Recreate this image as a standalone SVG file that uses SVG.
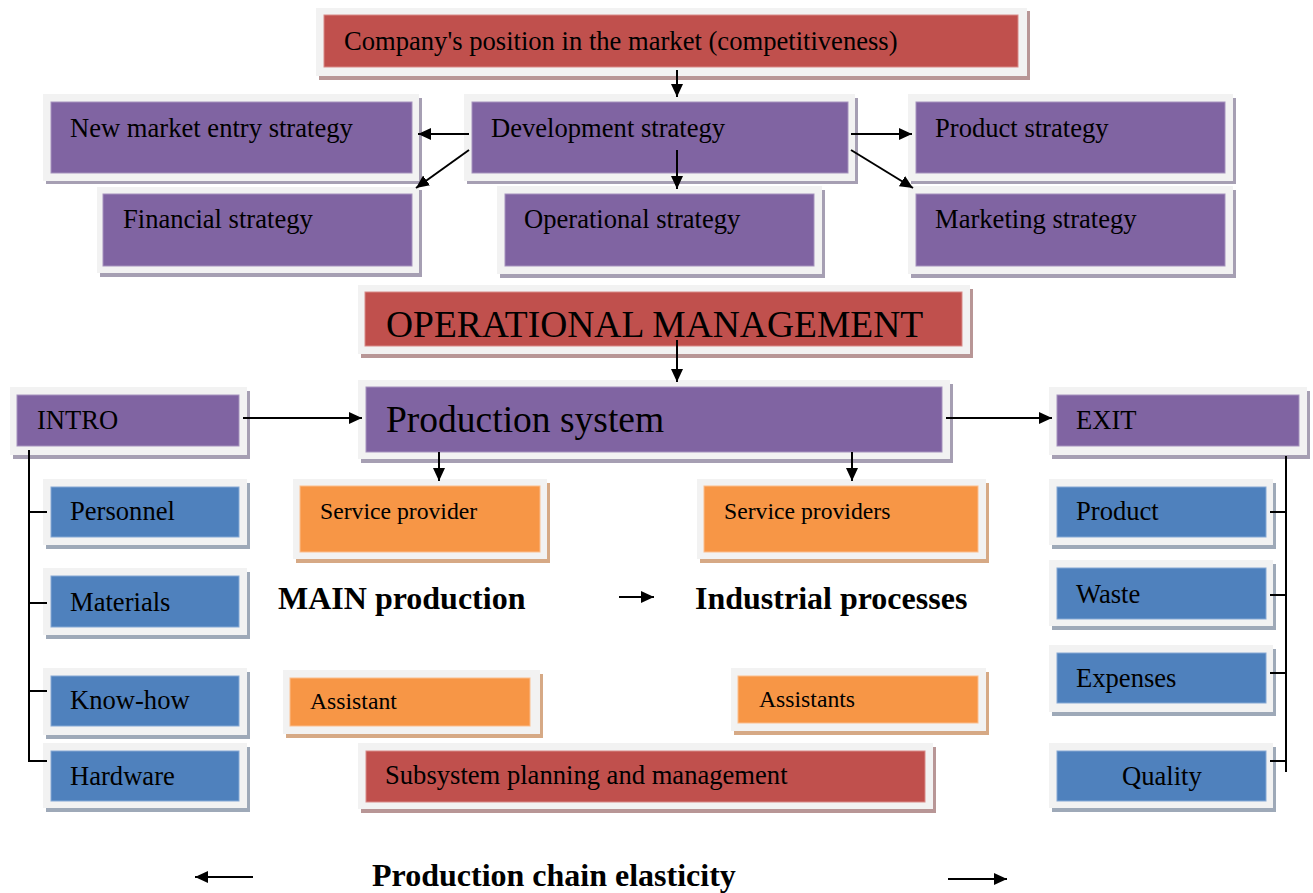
<svg xmlns="http://www.w3.org/2000/svg" width="1313" height="893" viewBox="0 0 1313 893">
<defs>
<style>
.bg{fill:#ffffff}
.frame{fill:#f2f2f2}
.sh-red{fill:#b89696}
.sh-pur{fill:#a69fb3}
.sh-blu{fill:#9ea9b8}
.sh-org{fill:#d6a985}
.red{fill:#c0504d;stroke:#d88a88;stroke-width:1}
.pur{fill:#8064a2;stroke:#a592bd;stroke-width:1}
.blu{fill:#4f81bd;stroke:#85a8d4;stroke-width:1}
.org{fill:#f79646;stroke:#fbbd8c;stroke-width:1}
.t{font-family:"Liberation Serif","Times New Roman",serif;fill:#000}
.t26{font-size:26.6px}
.t23{font-size:23.7px}
.t37{font-size:37.5px}
.tb{font-size:32px;font-weight:bold}
.ln{stroke:#000;stroke-width:2;fill:none}
</style>
<marker id="ah" markerWidth="14" markerHeight="14" refX="13" refY="7" orient="auto" markerUnits="userSpaceOnUse">
<path d="M0,1 L13,7 L0,13 z" fill="#000"/>
</marker>
</defs>
<rect class="bg" x="0" y="0" width="1313" height="893"/>

<g id="company-position">
<rect class="sh-red" x="319" y="11" width="711" height="69"/>
<rect class="frame" x="316" y="8" width="711" height="68"/>
<rect class="red" x="324" y="15" width="694" height="52"/>
<text class="t t26" x="344" y="50">Company's position in the market (competitiveness)</text>
</g>

<g id="new-market">
<rect class="sh-pur" x="46" y="98" width="376" height="86"/>
<rect class="frame" x="43" y="94" width="376" height="87"/>
<rect class="pur" x="51" y="102" width="361" height="71"/>
<text class="t t26" x="70" y="137">New market entry strategy</text>
</g>

<g id="development">
<rect class="sh-pur" x="467" y="98" width="391" height="86"/>
<rect class="frame" x="464" y="94" width="391" height="87"/>
<rect class="pur" x="472" y="102" width="376" height="71"/>
<text class="t t26" x="491" y="137">Development strategy</text>
</g>

<g id="product-strategy">
<rect class="sh-pur" x="911" y="98" width="325" height="86"/>
<rect class="frame" x="908" y="94" width="325" height="87"/>
<rect class="pur" x="916" y="102" width="309" height="71"/>
<text class="t t26" x="935" y="137">Product strategy</text>
</g>

<g id="financial">
<rect class="sh-pur" x="100" y="190" width="322" height="87"/>
<rect class="frame" x="97" y="187" width="322" height="86"/>
<rect class="pur" x="103" y="194" width="309" height="72"/>
<text class="t t26" x="123" y="228">Financial strategy</text>
</g>

<g id="operational-strategy">
<rect class="sh-pur" x="500" y="190" width="325" height="88"/>
<rect class="frame" x="497" y="186" width="325" height="88"/>
<rect class="pur" x="505" y="194" width="309" height="72"/>
<text class="t t26" x="524" y="228">Operational strategy</text>
</g>

<g id="marketing">
<rect class="sh-pur" x="911" y="190" width="325" height="88"/>
<rect class="frame" x="908" y="186" width="325" height="88"/>
<rect class="pur" x="916" y="194" width="309" height="72"/>
<text class="t t26" x="935" y="228">Marketing strategy</text>
</g>

<g id="operational-management">
<rect class="sh-red" x="361" y="289" width="612" height="69"/>
<rect class="frame" x="358" y="285" width="612" height="69"/>
<rect class="red" x="365" y="292" width="597" height="54"/>
<text class="t t37" x="386" y="337">OPERATIONAL MANAGEMENT</text>
</g>

<g id="production-system">
<rect class="sh-pur" x="361" y="384" width="592" height="79"/>
<rect class="frame" x="358" y="380" width="592" height="79"/>
<rect class="pur" x="366" y="387" width="576" height="65"/>
<text class="t t37" x="386" y="432">Production system</text>
</g>

<g id="intro">
<rect class="sh-pur" x="13" y="391" width="237" height="68"/>
<rect class="frame" x="10" y="387" width="237" height="68"/>
<rect class="pur" x="17" y="395" width="222" height="51"/>
<text class="t t26" x="37" y="429">INTRO</text>
</g>

<g id="exit">
<rect class="sh-pur" x="1052" y="391" width="258" height="68"/>
<rect class="frame" x="1049" y="387" width="258" height="68"/>
<rect class="pur" x="1057" y="395" width="242" height="51"/>
<text class="t t26" x="1076" y="429">EXIT</text>
</g>

<g id="personnel">
<rect class="sh-blu" x="46" y="483" width="204" height="66"/>
<rect class="frame" x="43" y="479" width="204" height="66"/>
<rect class="blu" x="51" y="487" width="188" height="50"/>
<text class="t t26" x="70" y="520">Personnel</text>
</g>

<g id="materials">
<rect class="sh-blu" x="46" y="572" width="204" height="67"/>
<rect class="frame" x="43" y="568" width="204" height="67"/>
<rect class="blu" x="51" y="576" width="188" height="51"/>
<text class="t t26" x="70" y="611">Materials</text>
</g>

<g id="know-how">
<rect class="sh-blu" x="46" y="672" width="204" height="67"/>
<rect class="frame" x="43" y="668" width="204" height="67"/>
<rect class="blu" x="51" y="676" width="188" height="50"/>
<text class="t t26" x="70" y="709">Know-how</text>
</g>

<g id="hardware">
<rect class="sh-blu" x="46" y="747" width="204" height="65"/>
<rect class="frame" x="43" y="743" width="204" height="65"/>
<rect class="blu" x="51" y="751" width="188" height="50"/>
<text class="t t26" x="70" y="785">Hardware</text>
</g>

<g id="product">
<rect class="sh-blu" x="1052" y="483" width="224" height="66"/>
<rect class="frame" x="1049" y="479" width="224" height="66"/>
<rect class="blu" x="1057" y="487" width="209" height="50"/>
<text class="t t26" x="1076" y="520">Product</text>
</g>

<g id="waste">
<rect class="sh-blu" x="1052" y="564" width="224" height="66"/>
<rect class="frame" x="1049" y="560" width="224" height="66"/>
<rect class="blu" x="1057" y="568" width="209" height="51"/>
<text class="t t26" x="1076" y="603">Waste</text>
</g>

<g id="expenses">
<rect class="sh-blu" x="1052" y="649" width="224" height="67"/>
<rect class="frame" x="1049" y="645" width="224" height="67"/>
<rect class="blu" x="1057" y="653" width="209" height="50"/>
<text class="t t26" x="1076" y="687">Expenses</text>
</g>

<g id="quality">
<rect class="sh-blu" x="1052" y="747" width="224" height="65"/>
<rect class="frame" x="1049" y="743" width="224" height="65"/>
<rect class="blu" x="1057" y="751" width="209" height="50"/>
<text class="t t26" x="1122" y="785">Quality</text>
</g>

<g id="service-provider">
<rect class="sh-org" x="296" y="483" width="254" height="80"/>
<rect class="frame" x="293" y="479" width="254" height="80"/>
<rect class="org" x="300" y="486" width="240" height="66"/>
<text class="t t23" x="320" y="519">Service provider</text>
</g>

<g id="service-providers">
<rect class="sh-org" x="700" y="483" width="289" height="80"/>
<rect class="frame" x="697" y="479" width="289" height="80"/>
<rect class="org" x="704" y="486" width="274" height="66"/>
<text class="t t23" x="724" y="519">Service providers</text>
</g>

<g id="assistant">
<rect class="sh-org" x="286" y="674" width="257" height="64"/>
<rect class="frame" x="283" y="670" width="257" height="64"/>
<rect class="org" x="290" y="678" width="240" height="48"/>
<text class="t t23" x="310" y="709">Assistant</text>
</g>

<g id="assistants">
<rect class="sh-org" x="734" y="672" width="255" height="63"/>
<rect class="frame" x="731" y="668" width="255" height="63"/>
<rect class="org" x="738" y="676" width="240" height="47"/>
<text class="t t23" x="759" y="707">Assistants</text>
</g>

<g id="subsystem">
<rect class="sh-red" x="361" y="747" width="575" height="66"/>
<rect class="frame" x="358" y="743" width="575" height="66"/>
<rect class="red" x="366" y="751" width="559" height="51"/>
<text class="t t26" x="385" y="784">Subsystem planning and management</text>
</g>

<g id="labels">
<text class="t tb" x="278" y="609">MAIN production</text>
<text class="t tb" x="695" y="609">Industrial processes</text>
<text class="t tb" x="372" y="886">Production chain elasticity</text>
</g>

<g id="connectors">
<line class="ln" x1="677" y1="70" x2="677" y2="97" marker-end="url(#ah)"/>
<line class="ln" x1="469" y1="134" x2="418" y2="134" marker-end="url(#ah)"/>
<line class="ln" x1="469" y1="150" x2="416" y2="188" marker-end="url(#ah)"/>
<line class="ln" x1="851" y1="134" x2="912" y2="134" marker-end="url(#ah)"/>
<line class="ln" x1="851" y1="150" x2="913" y2="188" marker-end="url(#ah)"/>
<line class="ln" x1="677" y1="150" x2="677" y2="189" marker-end="url(#ah)"/>
<line class="ln" x1="677" y1="340" x2="677" y2="382" marker-end="url(#ah)"/>
<line class="ln" x1="243" y1="418" x2="362" y2="418" marker-end="url(#ah)"/>
<line class="ln" x1="946" y1="418" x2="1052" y2="418" marker-end="url(#ah)"/>
<line class="ln" x1="439" y1="452" x2="439" y2="481" marker-end="url(#ah)"/>
<line class="ln" x1="852" y1="452" x2="852" y2="481" marker-end="url(#ah)"/>
<line class="ln" x1="619" y1="597" x2="654" y2="597" marker-end="url(#ah)"/>
<line class="ln" x1="253" y1="877" x2="195" y2="877" marker-end="url(#ah)"/>
<line class="ln" x1="948" y1="879" x2="1007" y2="879" marker-end="url(#ah)"/>
<path class="ln" d="M29,450 V761 H47 M29,512 H47 M29,603 H47 M29,691 H47"/>
<path class="ln" d="M1286,456 V772 M1270,512 H1286 M1270,595 H1286 M1270,673 H1286 M1270,761 H1286"/>
</g>
</svg>
